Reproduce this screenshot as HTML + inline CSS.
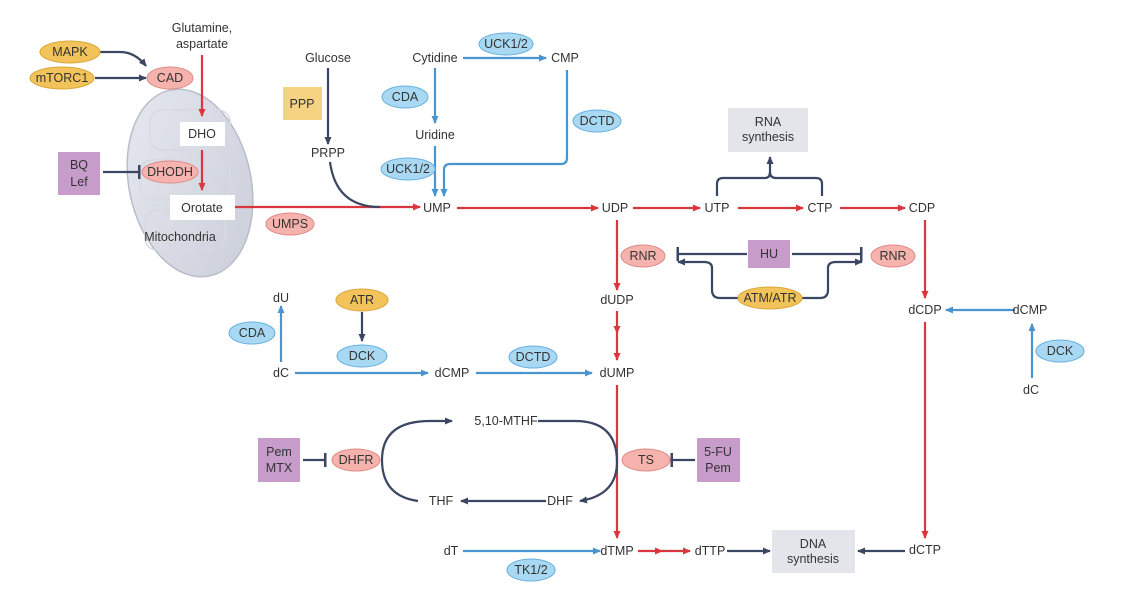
<!DOCTYPE html>
<html><head><meta charset="utf-8"><style>
html,body{margin:0;padding:0;background:#fff;}
svg{display:block;font-family:"Liberation Sans",sans-serif;}
text{font-size:12.5px;fill:#333;text-anchor:middle;dominant-baseline:central;}
</style></head><body>
<svg width="1123" height="594" viewBox="0 0 1123 594" xmlns="http://www.w3.org/2000/svg">
<defs>
<marker id="r" markerWidth="8" markerHeight="8" refX="7" refY="4" orient="auto" markerUnits="userSpaceOnUse"><path d="M0,0.5 L8,4 L0,7.5 Z" fill="#d9363e"/></marker>
<marker id="b" markerWidth="8" markerHeight="8" refX="7" refY="4" orient="auto" markerUnits="userSpaceOnUse"><path d="M0,0.5 L8,4 L0,7.5 Z" fill="#4a94cf"/></marker>
<marker id="d" markerWidth="8" markerHeight="8" refX="7" refY="4" orient="auto" markerUnits="userSpaceOnUse"><path d="M0,0.5 L8,4 L0,7.5 Z" fill="#3b4663"/></marker>
<marker id="t" markerWidth="4" markerHeight="14" refX="2" refY="7" orient="auto" markerUnits="userSpaceOnUse"><rect x="0" y="0" width="2.5" height="14" fill="#3b4663"/></marker>
<linearGradient id="mg" x1="0" y1="0" x2="1" y2="1"><stop offset="0" stop-color="#e6e9f0"/><stop offset="1" stop-color="#c9cdd8"/></linearGradient>
</defs>
<!-- mitochondria -->
<ellipse cx="190" cy="183" rx="61" ry="95" transform="rotate(-12 190 183)" fill="url(#mg)" stroke="#b8bdc9" stroke-width="1.5"/>
<g fill="none" stroke="#d6d9e2" stroke-width="1.5">
<rect x="150" y="110" width="80" height="40" rx="12"/>
<rect x="140" y="160" width="90" height="40" rx="12"/>
<rect x="145" y="210" width="80" height="40" rx="12"/>
</g>
<rect x="180" y="122" width="45" height="24" fill="#fff"/>
<rect x="170" y="195" width="65" height="25" fill="#fff"/>
<g stroke-width="2.2" fill="none">
<g stroke="#d9363e">
<line x1="202" y1="55" x2="202" y2="116" marker-end="url(#r)"/>
<line x1="202" y1="150" x2="202" y2="190" marker-end="url(#r)"/>
<line x1="235" y1="207" x2="420" y2="207" marker-end="url(#r)"/>
<line x1="457" y1="208" x2="598" y2="208" marker-end="url(#r)"/>
<line x1="633" y1="208" x2="700" y2="208" marker-end="url(#r)"/>
<line x1="738" y1="208" x2="803" y2="208" marker-end="url(#r)"/>
<line x1="840" y1="208" x2="905" y2="208" marker-end="url(#r)"/>
<line x1="617" y1="220" x2="617" y2="290" marker-end="url(#r)"/>
<line x1="617" y1="311" x2="617" y2="333" marker-end="url(#r)"/>
<line x1="617" y1="333" x2="617" y2="360" marker-end="url(#r)"/>
<line x1="617" y1="385" x2="617" y2="538" marker-end="url(#r)"/>
<line x1="925" y1="220" x2="925" y2="298" marker-end="url(#r)"/>
<line x1="925" y1="322" x2="925" y2="538" marker-end="url(#r)"/>
<line x1="638" y1="551" x2="662" y2="551" marker-end="url(#r)"/>
<line x1="662" y1="551" x2="690" y2="551" marker-end="url(#r)"/>
</g>
<g stroke="#4a94cf">
<line x1="463" y1="58" x2="546" y2="58" marker-end="url(#b)"/>
<line x1="435" y1="68" x2="435" y2="123" marker-end="url(#b)"/>
<line x1="435" y1="146" x2="435" y2="196" marker-end="url(#b)"/>
<path d="M567,70 V158 Q567,164 561,164 H450 Q444,164 444,170 V196" marker-end="url(#b)"/>
<line x1="281" y1="362" x2="281" y2="306" marker-end="url(#b)"/>
<line x1="295" y1="373" x2="428" y2="373" marker-end="url(#b)"/>
<line x1="476" y1="373" x2="592" y2="373" marker-end="url(#b)"/>
<line x1="1015" y1="310" x2="946" y2="310" marker-end="url(#b)"/>
<line x1="1032" y1="378" x2="1032" y2="324" marker-end="url(#b)"/>
<line x1="463" y1="551" x2="600" y2="551" marker-end="url(#b)"/>
</g>
<g stroke="#3b4663">
<path d="M100,52 H120 Q135,52 146,66" marker-end="url(#d)"/>
<line x1="95" y1="78" x2="146" y2="78" marker-end="url(#d)"/>
<line x1="103" y1="172" x2="140" y2="172" marker-end="url(#t)"/>
<line x1="328" y1="68" x2="328" y2="144" marker-end="url(#d)"/>
<path d="M330,162 Q336,207 380,207"/>
<path d="M717,196 V184 Q717,178 723,178 H765 Q770,178 770,172 V157" marker-end="url(#d)"/>
<path d="M822,196 V184 Q822,178 816,178 H776 Q770,178 770,172"/>
<line x1="747" y1="254" x2="677" y2="254" marker-end="url(#t)"/>
<line x1="792" y1="254" x2="862" y2="254" marker-end="url(#t)"/>
<path d="M738,298 H720 Q712,298 712,290 V268 Q712,262 704,262 H678" marker-end="url(#d)"/>
<path d="M802,298 H820 Q828,298 828,290 V268 Q828,262 836,262 H862" marker-end="url(#d)"/>
<line x1="362" y1="312" x2="362" y2="341" marker-end="url(#d)"/>
<line x1="303" y1="460" x2="326" y2="460" marker-end="url(#t)"/>
<line x1="695" y1="460" x2="671" y2="460" marker-end="url(#t)"/>
<path d="M418,501 Q382,496 382,460 Q382,421 430,421 H452" marker-end="url(#d)"/>
<path d="M538,421 H575 Q617,421 617,462 Q617,495 580,501" marker-end="url(#d)"/>
<line x1="546" y1="501" x2="461" y2="501" marker-end="url(#d)"/>
<line x1="727" y1="551" x2="770" y2="551" marker-end="url(#d)"/>
<line x1="905" y1="551" x2="858" y2="551" marker-end="url(#d)"/>
</g>
</g>
<rect x="58" y="152" width="42" height="43" fill="#c79ccb"/>
<text x="79" y="165">BQ</text><text x="79" y="182">Lef</text>
<rect x="283" y="87" width="39" height="33" fill="#f6d283"/>
<text x="302" y="104">PPP</text>
<rect x="728" y="108" width="80" height="44" fill="#e3e5ea"/>
<text x="768" y="122">RNA</text><text x="768" y="137">synthesis</text>
<rect x="748" y="240" width="42" height="28" fill="#c79ccb"/>
<text x="769" y="254">HU</text>
<rect x="258" y="438" width="42" height="44" fill="#c79ccb"/>
<text x="279" y="452">Pem</text><text x="279" y="468">MTX</text>
<rect x="697" y="438" width="43" height="44" fill="#c79ccb"/>
<text x="718" y="452">5-FU</text><text x="718" y="468">Pem</text>
<rect x="772" y="530" width="83" height="43" fill="#e3e5ea"/>
<text x="813" y="544">DNA</text><text x="813" y="559">synthesis</text>
<g stroke-width="1">
<g fill="#f2c35a" stroke="#d9a83a">
<ellipse cx="70" cy="52" rx="30" ry="11"/>
<ellipse cx="62" cy="78" rx="32" ry="11"/>
<ellipse cx="362" cy="300" rx="26" ry="11"/>
<ellipse cx="770" cy="298" rx="32" ry="11"/>
</g>
<g fill="#f6b3ae" stroke="#e08a86">
<ellipse cx="170" cy="78" rx="23" ry="11"/>
<ellipse cx="170" cy="172" rx="28" ry="11"/>
<ellipse cx="290" cy="224" rx="24" ry="11"/>
<ellipse cx="643" cy="256" rx="22" ry="11"/>
<ellipse cx="893" cy="256" rx="22" ry="11"/>
<ellipse cx="356" cy="460" rx="24" ry="11"/>
<ellipse cx="646" cy="460" rx="24" ry="11"/>
</g>
<g fill="#a9d9f2" stroke="#64afe0">
<ellipse cx="506" cy="44" rx="27" ry="11"/>
<ellipse cx="405" cy="97" rx="23" ry="11"/>
<ellipse cx="408" cy="169" rx="27" ry="11"/>
<ellipse cx="597" cy="121" rx="24" ry="11"/>
<ellipse cx="252" cy="333" rx="23" ry="11"/>
<ellipse cx="362" cy="356" rx="25" ry="11"/>
<ellipse cx="533" cy="357" rx="24" ry="11"/>
<ellipse cx="1060" cy="351" rx="24" ry="11"/>
<ellipse cx="531" cy="570" rx="24" ry="11"/>
</g>
</g>
<text x="70" y="52">MAPK</text><text x="62" y="78">mTORC1</text><text x="170" y="78">CAD</text>
<text x="170" y="172">DHODH</text><text x="290" y="224">UMPS</text>
<text x="362" y="300">ATR</text><text x="770" y="298">ATM/ATR</text>
<text x="643" y="256">RNR</text><text x="893" y="256">RNR</text>
<text x="356" y="460">DHFR</text><text x="646" y="460">TS</text>
<text x="506" y="44">UCK1/2</text><text x="405" y="97">CDA</text><text x="408" y="169">UCK1/2</text>
<text x="597" y="121">DCTD</text><text x="252" y="333">CDA</text><text x="362" y="356">DCK</text>
<text x="533" y="357">DCTD</text><text x="1060" y="351">DCK</text><text x="531" y="570">TK1/2</text>
<text x="202" y="28">Glutamine,</text><text x="202" y="44">aspartate</text>
<text x="202" y="134">DHO</text><text x="202" y="208">Orotate</text>
<text x="180" y="237">Mitochondria</text>
<text x="328" y="58">Glucose</text><text x="328" y="153">PRPP</text>
<text x="435" y="58">Cytidine</text><text x="565" y="58">CMP</text>
<text x="435" y="135">Uridine</text><text x="437" y="208">UMP</text>
<text x="615" y="208">UDP</text><text x="717" y="208">UTP</text>
<text x="820" y="208">CTP</text><text x="922" y="208">CDP</text>
<text x="617" y="300">dUDP</text><text x="617" y="373">dUMP</text>
<text x="281" y="298">dU</text><text x="281" y="373">dC</text><text x="452" y="373">dCMP</text>
<text x="925" y="310">dCDP</text><text x="1030" y="310">dCMP</text><text x="1031" y="390">dC</text>
<text x="506" y="421">5,10-MTHF</text><text x="441" y="501">THF</text><text x="560" y="501">DHF</text>
<text x="451" y="551">dT</text><text x="617" y="551">dTMP</text><text x="710" y="551">dTTP</text>
<text x="925" y="550">dCTP</text>
</svg>
</body></html>
